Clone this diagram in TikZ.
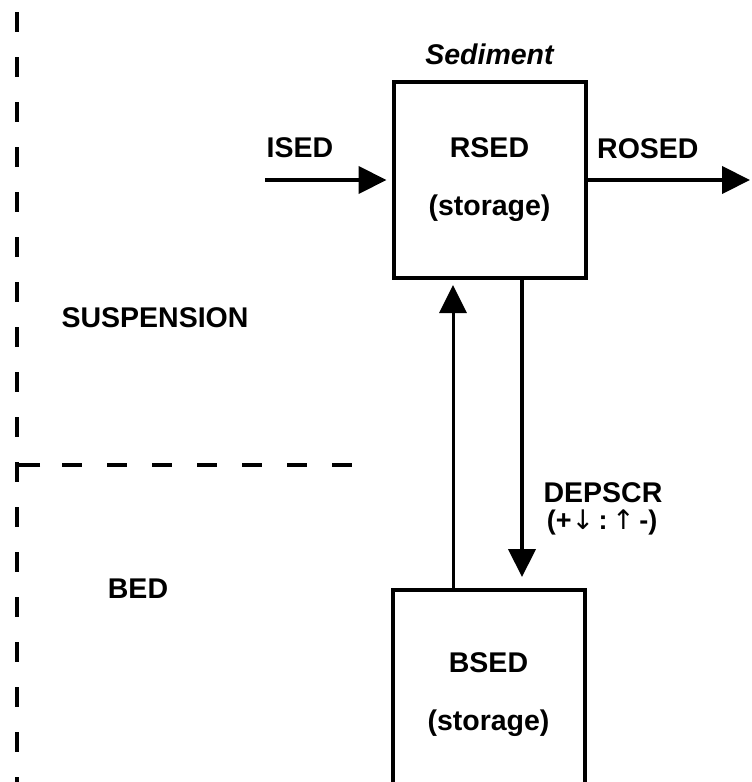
\documentclass[tikz,border=0pt]{standalone}
\usepackage{fontspec}
\setmainfont{Liberation Sans}
\newfontfamily\arrowfont{DejaVu Sans}
\usetikzlibrary{positioning,arrows.meta}

\tikzset{
    store/.style={draw, line width=4pt, minimum width=192pt, inner sep=0pt, align=center,
        font=\bfseries\fontsize{28.5}{58}\selectfont},
    lbl/.style={inner sep=0pt, font=\bfseries\fontsize{28.5}{34}\selectfont},
    flow/.style={line width=4.3pt, -{Triangle[length=28pt,width=27pt]}},
    thinflow/.style={line width=3pt, -{Triangle[length=28pt,width=27pt]}},
    layer/.style={line width=4pt, dash pattern=on 20pt off 25pt},
}

\begin{document}
\begin{tikzpicture}[x=1pt, y=-1pt]
    \useasboundingbox (0,0) rectangle (752,782);
    \clip (0,0) rectangle (752,782);

    % Draw layers
    \draw[layer] (17,12) -- (17,782);
    \draw[line width=4pt] (40,465) -- (17,465) -- (17,482);
    \draw[layer] (62,465) -- (357,465);

    % Draw nodes
    \node[store, minimum height=196pt] (rsed) at (489.5,180) {RSED\\(storage)};
    \node[store, minimum height=210pt] (bsed) at (488.5,695) {BSED\\(storage)};
    \node[lbl, font=\bfseries\itshape\fontsize{28.5}{34}\selectfont, above=15pt of rsed] (sediment) {Sediment};

    \coordinate (isedstart) at (265,180);
    \coordinate (rosedend) at (750,180);
    \coordinate (depend) at (522,577);
    \coordinate (scrend) at (453,285);

    % Draw connections
    \draw[flow, shorten >=5pt] (isedstart) -- (rsed.west);
    \draw[flow] (rsed.east) -- (rosedend);
    \draw[flow] (rsed.south -| depend) -- (depend);
    \draw[thinflow] (bsed.north -| scrend) -- (scrend);

    % Labels
    \node[lbl, anchor=base] (isedlbl) at (300,157) {ISED};
    \node[lbl, anchor=base west] (rosedlbl) at (597,158) {ROSED};
    \node[lbl, anchor=base] (susp) at (155,327) {SUSPENSION};
    \node[lbl, anchor=base] (bed) at (138,598) {BED};
    \node[lbl, anchor=base] (depscr) at (603,502) {DEPSCR};
    \node[lbl, anchor=base, font=\bfseries\fontsize{27}{30}\selectfont] (depsign) at (602,529)
        {(+{\arrowfont\mdseries ↓}\,:\,{\arrowfont\mdseries ↑}\,-)};
\end{tikzpicture}
\end{document}
